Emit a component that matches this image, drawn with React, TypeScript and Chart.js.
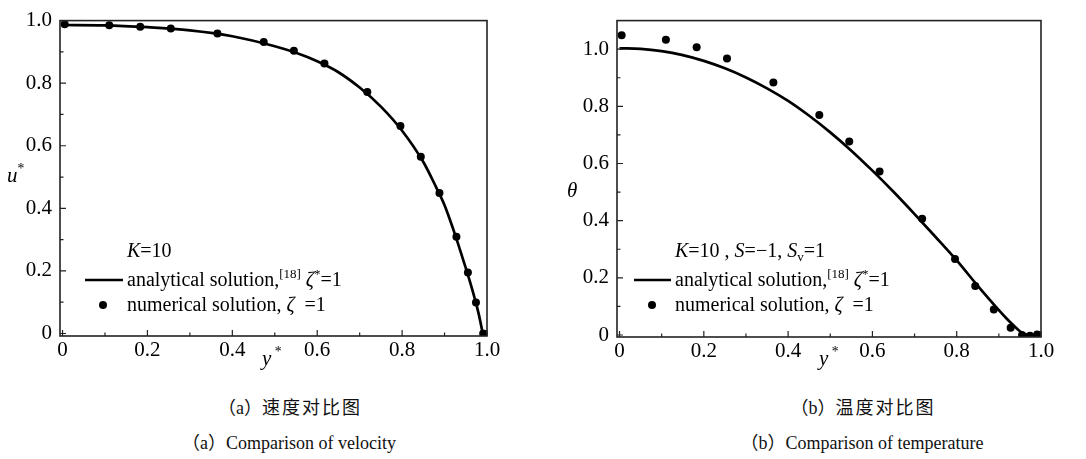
import React, { useEffect, useRef } from "react";
import { Chart, registerables } from "chart.js";
Chart.register(...registerables);

// ---- data ----
const Y_STAR = [0.005, 0.11, 0.183, 0.255, 0.365, 0.474, 0.545, 0.617, 0.718, 0.796, 0.844, 0.888, 0.928, 0.955, 0.974, 0.991];
const U_NUM = [0.988, 0.985, 0.98, 0.975, 0.959, 0.932, 0.904, 0.863, 0.772, 0.663, 0.565, 0.449, 0.309, 0.195, 0.099, 0.0];
const U_CURVE_X = [0, 0.1, 0.2, 0.3, 0.4, 0.5, 0.55, 0.6, 0.65, 0.7, 0.75, 0.8, 0.85, 0.88, 0.9, 0.92, 0.94, 0.96, 0.98, 0.99];
const U_CURVE = [0.986, 0.985, 0.979, 0.969, 0.95, 0.918, 0.897, 0.87, 0.835, 0.786, 0.725, 0.648, 0.548, 0.468, 0.41, 0.335, 0.252, 0.165, 0.065, 0.0];
const T_NUM = [1.049, 1.033, 1.007, 0.967, 0.883, 0.77, 0.677, 0.572, 0.407, 0.266, 0.171, 0.089, 0.025, 0.0, -0.003, 0.002];
const T_CURVE_X = [0, 0.05, 0.1, 0.15, 0.2, 0.25, 0.3, 0.35, 0.4, 0.45, 0.5, 0.55, 0.6, 0.65, 0.7, 0.75, 0.8, 0.85, 0.9, 0.92, 0.94, 0.95, 0.96, 0.97, 1.0];
const T_CURVE = [1.003, 1.001, 0.993, 0.979, 0.959, 0.933, 0.901, 0.863, 0.819, 0.767, 0.709, 0.645, 0.575, 0.501, 0.423, 0.343, 0.261, 0.172, 0.087, 0.055, 0.026, 0.013, 0.004, 0.0, 0.0];
const X_TICKS = [0, 0.2, 0.4, 0.6, 0.8, 1.0];
const X_MINOR = [0.1, 0.3, 0.5, 0.7, 0.9];
const Y_TICKS = [0, 0.2, 0.4, 0.6, 0.8, 1.0];
const Y_MINOR = [0.1, 0.3, 0.5, 0.7, 0.9];

const SERIF = '"Liberation Serif", "Times New Roman", serif';

type Part = { t: string; i?: boolean; sup?: boolean; sub?: boolean };

function drawRich(ctx: CanvasRenderingContext2D, x: number, y: number, parts: Part[], size: number) {
  ctx.save();
  ctx.fillStyle = "#000";
  ctx.textBaseline = "alphabetic";
  ctx.textAlign = "left";
  let cx = x;
  for (const p of parts) {
    const s = p.sup || p.sub ? size * 0.65 : size;
    ctx.font = `${p.i ? "italic " : ""}${s}px ${SERIF}`;
    const dy = p.sup ? -size * 0.42 : p.sub ? size * 0.2 : 0;
    ctx.fillText(p.t, cx, y + dy);
    cx += ctx.measureText(p.t).width;
  }
  ctx.restore();
}

type Cfg = {
  num: number[];
  curveX: number[];
  curve: number[];
  yMin: number;
  yMax: number;
  pad: { top: number; right: number };
  yWidth: number;
  xHeight: number;
  yTitle: { parts: Part[]; x: number; y: number };
  xTitle: { x: number; y: number };
  legend: { head: Part[]; textX: number; lineX0: number; lineX1: number; dotX: number };
};

function makeChart(canvas: HTMLCanvasElement, c: Cfg) {
  const decor = {
    id: "decor",
    afterDraw(chart: any) {
      const ctx: CanvasRenderingContext2D = chart.ctx;
      const a = chart.chartArea;
      const xs = chart.scales.x;
      const ys = chart.scales.y;
      ctx.save();
      ctx.strokeStyle = "#222";
      ctx.lineWidth = 1.6;
      ctx.strokeRect(a.left, a.top, a.right - a.left, a.bottom - a.top);
      ctx.lineWidth = 1.2;
      ctx.beginPath();
      for (const v of X_TICKS) {
        const p = xs.getPixelForValue(v);
        ctx.moveTo(p, a.bottom);
        ctx.lineTo(p, a.bottom - 6);
      }
      for (const v of X_MINOR) {
        const p = xs.getPixelForValue(v);
        ctx.moveTo(p, a.bottom);
        ctx.lineTo(p, a.bottom - 3.5);
      }
      for (const v of Y_TICKS) {
        const p = ys.getPixelForValue(v);
        ctx.moveTo(a.left, p);
        ctx.lineTo(a.left + 6, p);
      }
      for (const v of Y_MINOR) {
        const p = ys.getPixelForValue(v);
        ctx.moveTo(a.left, p);
        ctx.lineTo(a.left + 3.5, p);
      }
      ctx.stroke();
      // axis titles
      drawRich(ctx, c.yTitle.x, c.yTitle.y, c.yTitle.parts, 21);
      drawRich(ctx, c.xTitle.x, c.xTitle.y, [{ t: "y", i: true }, { t: " *", sup: true }], 21);
      // legend
      const L = c.legend;
      drawRich(ctx, L.textX, 257, L.head, 20);
      ctx.strokeStyle = "#000";
      ctx.lineWidth = 2.6;
      ctx.beginPath();
      ctx.moveTo(L.lineX0, 280);
      ctx.lineTo(L.lineX1, 280);
      ctx.stroke();
      drawRich(ctx, L.textX, 286, [
        { t: "analytical solution," },
        { t: "[18]", sup: true },
        { t: " " },
        { t: "ζ", i: true },
        { t: "*", sup: true },
        { t: "=1" },
      ], 20);
      ctx.fillStyle = "#000";
      ctx.beginPath();
      ctx.arc(L.dotX, 305, 4, 0, Math.PI * 2);
      ctx.fill();
      drawRich(ctx, L.textX, 311, [{ t: "numerical solution, " }, { t: "ζ", i: true }, { t: "  =1" }], 20);
      ctx.restore();
    },
  };

  const fixTicks = (vals: number[]) => (scale: any) => {
    scale.ticks = vals.map((v) => ({ value: v }));
  };

  return new Chart(canvas, {
    type: "scatter",
    data: {
      datasets: [
        {
          data: c.curveX.map((x, i) => ({ x, y: c.curve[i] })),
          showLine: true,
          borderColor: "#000",
          borderWidth: 2.7,
          pointRadius: 0,
          cubicInterpolationMode: "monotone",
        } as any,
        {
          data: Y_STAR.map((x, i) => ({ x, y: c.num[i] })),
          showLine: false,
          pointRadius: 4,
          pointBackgroundColor: "#000",
          pointBorderColor: "#000",
          pointBorderWidth: 0,
        } as any,
      ],
    },
    options: {
      responsive: false,
      animation: false,
      events: [],
      layout: { padding: { top: c.pad.top, right: c.pad.right, left: 0, bottom: 0 } },
      plugins: { legend: { display: false }, tooltip: { enabled: false } },
      scales: {
        x: {
          type: "linear",
          min: -0.006,
          max: 1.0,
          grid: { display: false, drawTicks: false },
          border: { display: false },
          afterBuildTicks: fixTicks(X_TICKS),
          afterFit: (s: any) => {
            s.height = c.xHeight;
          },
          ticks: {
            padding: 2,
            color: "#000",
            font: { family: SERIF, size: 21 },
            maxRotation: 0,
            callback: (v: any) => (Number(v) === 0 ? "0" : Number(v).toFixed(1)),
          },
        },
        y: {
          type: "linear",
          min: c.yMin,
          max: c.yMax,
          grid: { display: false, drawTicks: false },
          border: { display: false },
          afterBuildTicks: fixTicks(Y_TICKS),
          afterFit: (s: any) => {
            s.width = c.yWidth;
          },
          ticks: {
            padding: 8,
            color: "#000",
            font: { family: SERIF, size: 21 },
            callback: (v: any) => (Number(v) === 0 ? "0" : Number(v).toFixed(1)),
          },
        },
      },
    },
    plugins: [decor],
  } as any);
}

function Panel({ cfg, left }: { cfg: Cfg; left: number }) {
  const ref = useRef<HTMLCanvasElement>(null);
  useEffect(() => {
    const ch = makeChart(ref.current!, cfg);
    return () => ch.destroy();
  }, []);
  return (
    <canvas
      ref={ref}
      width={543}
      height={380}
      style={{ position: "absolute", left, top: 0, width: 543, height: 380 }}
    />
  );
}

const leftCfg: Cfg = {
  num: U_NUM,
  curveX: U_CURVE_X,
  curve: U_CURVE,
  yMin: -0.008,
  yMax: 1.0,
  pad: { top: 13, right: 56 },
  yWidth: 60,
  xHeight: 44,
  yTitle: { parts: [{ t: "u", i: true }, { t: "*", sup: true }], x: 7, y: 182 },
  xTitle: { x: 262, y: 365 },
  legend: { head: [{ t: "K", i: true }, { t: "=10" }], textX: 127, lineX0: 85, lineX1: 123, dotX: 103 },
};

const rightCfg: Cfg = {
  num: T_NUM,
  curveX: T_CURVE_X,
  curve: T_CURVE,
  yMin: -0.007,
  yMax: 1.1,
  pad: { top: 14, right: 45 },
  yWidth: 74,
  xHeight: 43,
  yTitle: { parts: [{ t: "θ", i: true }], x: 24, y: 197 },
  xTitle: { x: 276, y: 365 },
  legend: {
    head: [
      { t: "K", i: true },
      { t: "=10 , " },
      { t: "S", i: true },
      { t: "=−1, " },
      { t: "S", i: true },
      { t: "v", sub: true },
      { t: "=1" },
    ],
    textX: 132,
    lineX0: 91,
    lineX1: 128,
    dotX: 109,
  },
};

const capStyle = (x: number, y: number, size: number): React.CSSProperties => ({
  position: "absolute",
  left: x,
  top: y,
  transform: "translate(-50%, -50%)",
  whiteSpace: "nowrap",
  fontFamily: '"Liberation Serif", "Noto Sans CJK SC", serif',
  fontSize: size,
  color: "#111",
  lineHeight: 1,
});

export default function App() {
  useEffect(() => {
    document.body.style.margin = "0";
    document.body.style.background = "#fff";
  }, []);
  return (
    <div style={{ position: "relative", width: 1086, height: 459, background: "#fff", overflow: "hidden" }}>
      <Panel cfg={leftCfg} left={0} />
      <Panel cfg={rightCfg} left={543} />
      <div style={capStyle(290, 408, 18)}>（a）<span style={{ letterSpacing: 2 }}>速度对比图</span></div>
      <div style={capStyle(289, 443, 18)}>（a）Comparison of velocity</div>
      <div style={capStyle(863, 408, 18)}>（b）<span style={{ letterSpacing: 2 }}>温度对比图</span></div>
      <div style={capStyle(862, 443, 18)}>（b）Comparison of temperature</div>
    </div>
  );
}
